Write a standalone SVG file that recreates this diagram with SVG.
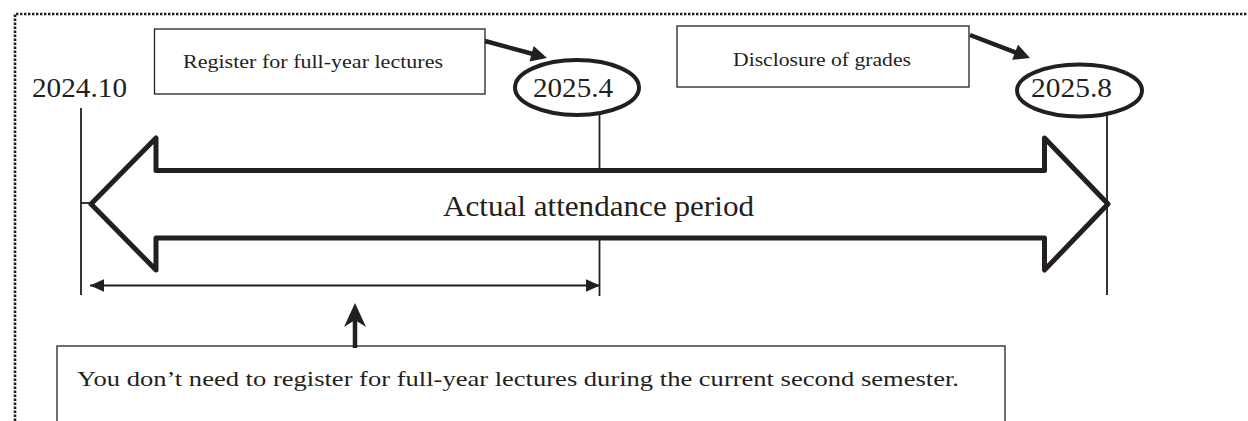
<svg xmlns="http://www.w3.org/2000/svg" width="1248" height="421" viewBox="0 0 1248 421">
  <style>
    text { font-family: "Liberation Serif", "DejaVu Serif", serif; fill: #231f20; }
    .box { fill: #ffffff; stroke: #231f20; stroke-width: 1.3; }
    .tick { stroke: #231f20; stroke-width: 1.8; fill: none; }
    .oval { fill: #ffffff; stroke: #231f20; stroke-width: 4; }
    .thick { stroke: #231f20; stroke-width: 4.5; fill: none; }
    .head { fill: #231f20; stroke: none; }
  </style>
  <defs>
    <marker id="sm" viewBox="0 0 10 10" refX="10" refY="5" markerWidth="8" markerHeight="8" markerUnits="strokeWidth" orient="auto-start-reverse">
      <path d="M0,0.5 L10,5 L0,9.5 Z" fill="#231f20"/>
    </marker>
  </defs>
  <rect width="1248" height="421" fill="#ffffff"/>

  <!-- dotted frame -->
  <path d="M15,421 V14 H1248" fill="none" stroke="#231f20" stroke-width="2.6" stroke-dasharray="2.4 1.6"/>

  <!-- timeline ticks -->
  <g id="ticks">
    <line class="tick" x1="81" y1="108" x2="81" y2="295"/>
    <line class="tick" x1="81" y1="203" x2="90" y2="203"/>
    <line class="tick" x1="599.5" y1="107" x2="599.5" y2="296"/>
    <line class="tick" x1="1107" y1="108" x2="1107" y2="295"/>
  </g>

  <!-- big double arrow -->
  <g id="period">
    <polygon points="91,204 156,138 156,170.5 1044.5,170.5 1044.5,138 1108,204 1044.5,270 1044.5,238 156,238 156,270" fill="#ffffff" stroke="#231f20" stroke-width="5" stroke-linejoin="round"/>
    <text x="443" y="216" font-family="Liberation Serif, DejaVu Serif, serif" font-size="30" textLength="311" lengthAdjust="spacingAndGlyphs">Actual attendance period</text>
  </g>

  <g id="d2024">
    <text x="32" y="97" font-family="Liberation Serif, DejaVu Serif, serif" font-size="28" textLength="95" lengthAdjust="spacingAndGlyphs">2024.10</text>
  </g>

  <g id="d2025-4">
    <ellipse class="oval" cx="577" cy="87.5" rx="62" ry="27.5"/>
    <text x="533" y="97" font-family="Liberation Serif, DejaVu Serif, serif" font-size="28" textLength="80" lengthAdjust="spacingAndGlyphs">2025.4</text>
  </g>

  <g id="d2025-8">
    <ellipse class="oval" cx="1079.5" cy="90.5" rx="62.5" ry="26"/>
    <text x="1031" y="97" font-family="Liberation Serif, DejaVu Serif, serif" font-size="28" textLength="81" lengthAdjust="spacingAndGlyphs">2025.8</text>
  </g>

  <g id="register">
    <rect class="box" x="154.5" y="29" width="330.5" height="65"/>
    <text x="183" y="68" font-family="Liberation Serif, DejaVu Serif, serif" font-size="19" textLength="260" lengthAdjust="spacingAndGlyphs">Register for full-year lectures</text>
  </g>

  <g id="grades">
    <rect class="box" x="677" y="26" width="292" height="61"/>
    <text x="733" y="66" font-family="Liberation Serif, DejaVu Serif, serif" font-size="19" textLength="178" lengthAdjust="spacingAndGlyphs">Disclosure of grades</text>
  </g>

  <g id="note">
    <rect class="box" x="57" y="346" width="948" height="80"/>
    <text x="77" y="386" font-family="Liberation Serif, DejaVu Serif, serif" font-size="22" textLength="882" lengthAdjust="spacingAndGlyphs">You don’t need to register for full-year lectures during the current second semester.</text>
  </g>

  <g id="connectors">
    <line class="thick" x1="485" y1="41" x2="533" y2="54"/>
    <polygon class="head" points="547,58 529.5,61.5 533.7,46.1"/>
    <line class="thick" x1="970" y1="35" x2="1016" y2="52.6"/>
    <polygon class="head" points="1030,58 1012.2,59.8 1018,44.8"/>
    <line x1="90" y1="285.5" x2="600" y2="285.5" stroke="#231f20" stroke-width="1.8" marker-start="url(#sm)" marker-end="url(#sm)"/>
    <line class="thick" x1="355" y1="348" x2="355" y2="318"/>
    <polygon class="head" points="355,303 366,327 355,320 344,327"/>
  </g>
</svg>
